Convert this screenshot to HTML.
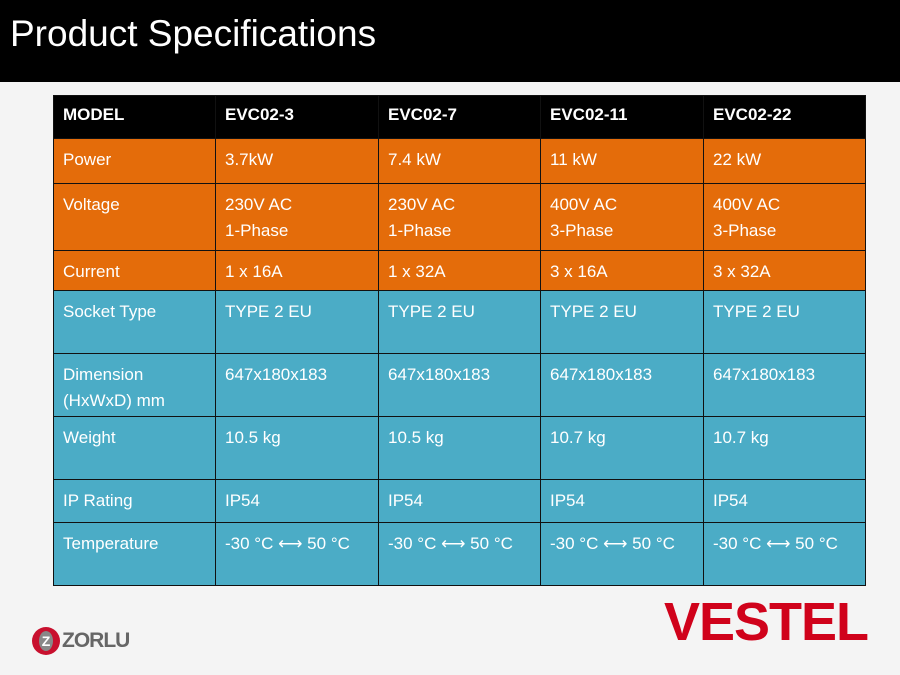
<!DOCTYPE html>
<html><head><meta charset="utf-8"><style>
body{margin:0;width:900px;height:675px;background:#f4f4f4;position:relative;overflow:hidden;font-family:"Liberation Sans",sans-serif}
#title{position:absolute;left:0;top:0;width:900px;height:82px;background:#000;color:#fff;font-size:37px;line-height:68px;padding-left:10px;box-sizing:border-box}
.c{position:absolute;box-sizing:border-box;border:1px solid #111;color:#fff;font-size:17px;padding:8px 0 0 9px;line-height:26px}
.h{background:#000;font-weight:bold;padding-top:6px}
.o{background:#e46c0a}
.b{background:#4bacc6}
</style></head><body>
<div id="title">Product Specifications</div>
<div id="tbl"></div>
<div style="position:absolute;left:32px;top:627px;width:120px;height:28px">
<div style="position:absolute;left:0;top:0;width:28px;height:28px;border-radius:50%;background:#c8102e"></div>
<div style="position:absolute;left:7px;top:4px;width:14px;height:20px;border-radius:50%;background:#888;color:#fff;font-size:14px;font-weight:bold;text-align:center;line-height:20px">Z</div>
<div style="position:absolute;left:30px;top:2px;color:#666;font-size:21px;font-weight:bold;letter-spacing:-1px">ZORLU</div>
</div>
<div style="position:absolute;left:664px;top:594px;color:#d0021b;font-size:54px;font-weight:bold;letter-spacing:-1px;transform:scaleX(1.0);transform-origin:left;line-height:56px">VESTEL</div>
<script>
const cols=[53,215,378,540,703,865];
const rows=[95,138,183,250,290,353,416,479,522,585];
const data=[
["MODEL","EVC02-3","EVC02-7","EVC02-11","EVC02-22"],
["Power","3.7kW","7.4 kW","11 kW","22 kW"],
["Voltage","230V AC<br>1-Phase","230V AC<br>1-Phase","400V AC<br>3-Phase","400V AC<br>3-Phase"],
["Current","1 x 16A","1 x 32A","3 x 16A","3 x 32A"],
["Socket Type","TYPE 2 EU","TYPE 2 EU","TYPE 2 EU","TYPE 2 EU"],
["Dimension<br>(HxWxD) mm","647x180x183","647x180x183","647x180x183","647x180x183"],
["Weight","10.5 kg","10.5 kg","10.7 kg","10.7 kg"],
["IP Rating","IP54","IP54","IP54","IP54"],
["Temperature","-30 °C ⟷ 50 °C","-30 °C ⟷ 50 °C","-30 °C ⟷ 50 °C","-30 °C ⟷ 50 °C"]];
const t=document.getElementById('tbl');
data.forEach((r,i)=>r.forEach((v,j)=>{
const d=document.createElement('div');
d.className='c '+(i==0?'h':i<4?'o':'b');
d.style.left=cols[j]+'px';d.style.top=rows[i]+'px';
d.style.width=(cols[j+1]-cols[j]+1)+'px';d.style.height=(rows[i+1]-rows[i]+1)+'px';
d.innerHTML=v;


t.appendChild(d);}));
</script>
</body></html>
